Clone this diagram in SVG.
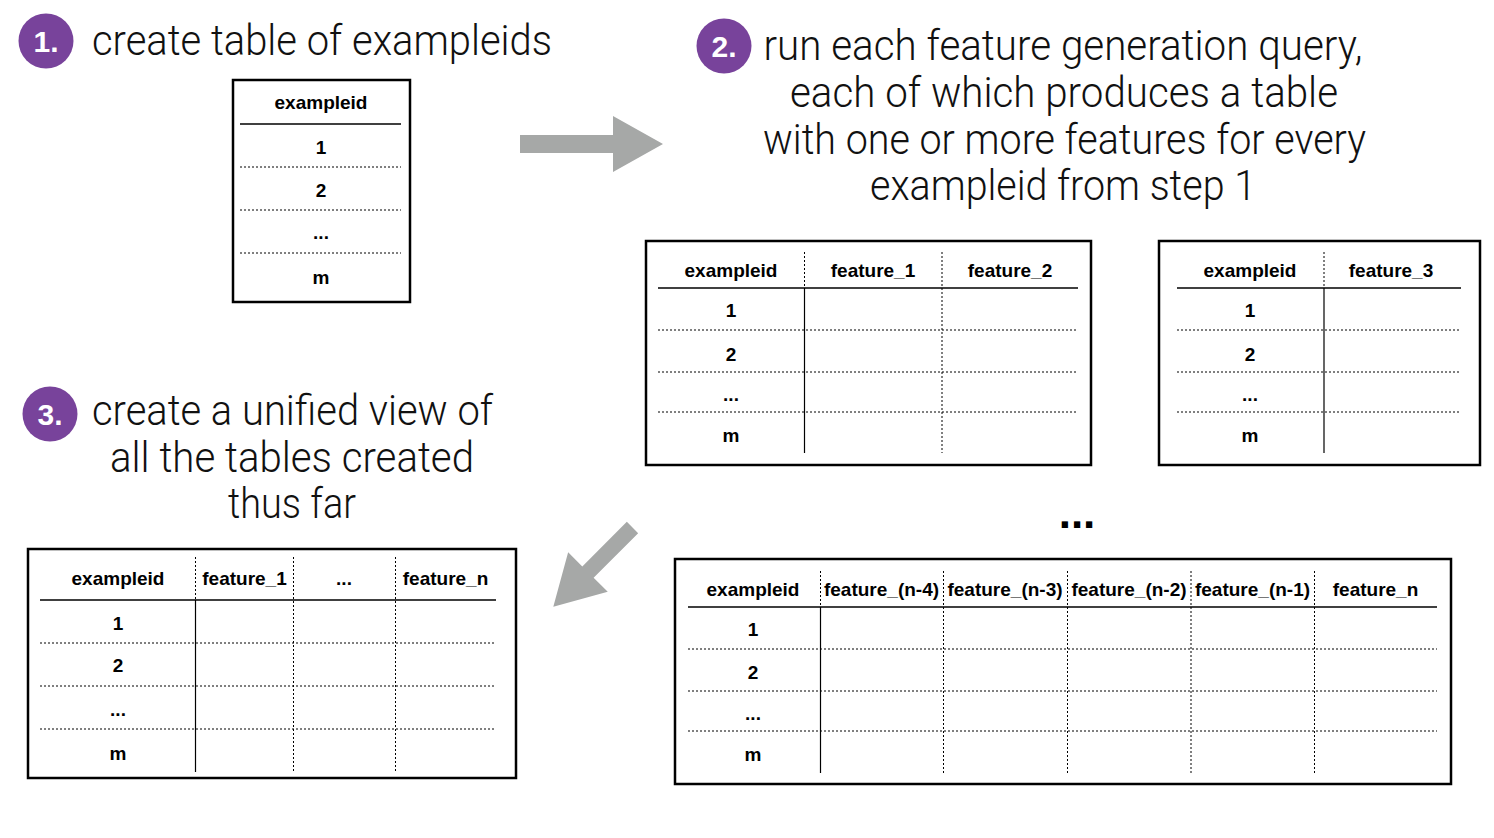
<svg xmlns="http://www.w3.org/2000/svg" width="1494" height="838" viewBox="0 0 1494 838">
<style>
.title{font-family:Roboto,"Liberation Sans",Arial,sans-serif;font-weight:300;font-size:42px;fill:#111;text-anchor:middle}
.tl{text-anchor:start}
.badge{fill:#78439b}
.btxt{font-family:"Liberation Sans",Arial,sans-serif;font-weight:bold;font-size:30px;fill:#fff;text-anchor:middle}
.frame{fill:#fff;stroke:#000;stroke-width:2.5}
.hl{stroke:#000;stroke-width:1.5}
.vs{stroke:#000;stroke-width:1.2}
.dt{stroke:#000;stroke-width:1;stroke-dasharray:2 2}
.cell{font-family:"Liberation Sans",Arial,sans-serif;font-weight:bold;font-size:19px;text-anchor:middle;fill:#000}
.arrow{fill:#a6a8a7}
</style>
<rect width="1494" height="838" fill="#fff"/>

<g id="step1">
<circle class="badge" cx="46" cy="41" r="27.5"/>
<text class="btxt" x="46" y="51.5">1.</text>
<text class="title tl" x="92" y="55" textLength="460" lengthAdjust="spacingAndGlyphs">create table of exampleids</text>
</g>

<g id="table1">
<rect class="frame" x="233" y="80" width="177" height="222"/>
<text class="cell" x="321" y="109">exampleid</text>
<line class="hl" x1="240" y1="124" x2="401" y2="124"/>
<line class="dt" x1="240" y1="167" x2="401" y2="167"/>
<line class="dt" x1="240" y1="210" x2="401" y2="210"/>
<line class="dt" x1="240" y1="253" x2="401" y2="253"/>
<text class="cell" x="321" y="154">1</text>
<text class="cell" x="321" y="197">2</text>
<text class="cell" x="321" y="239">...</text>
<text class="cell" x="321" y="284">m</text>
</g>

<g id="step2">
<circle class="badge" cx="724" cy="46" r="27.5"/>
<text class="btxt" x="724" y="56.5">2.</text>
<text class="title" x="1063" y="60" textLength="599" lengthAdjust="spacingAndGlyphs">run each feature generation query,</text>
<text class="title" x="1064" y="107" textLength="548" lengthAdjust="spacingAndGlyphs">each of which produces a table</text>
<text class="title" x="1064.5" y="154" textLength="603" lengthAdjust="spacingAndGlyphs">with one or more features for every</text>
<text class="title" x="1063" y="200" textLength="386" lengthAdjust="spacingAndGlyphs">exampleid from step 1</text>
</g>

<g id="table2">
<rect class="frame" x="646" y="241" width="445" height="224"/>
<text class="cell" x="731" y="277">exampleid</text>
<text class="cell" x="873" y="277">feature_1</text>
<text class="cell" x="1010" y="277">feature_2</text>
<line class="hl" x1="658" y1="288" x2="1078" y2="288"/>
<line class="dt" x1="804.5" y1="252" x2="804.5" y2="288"/>
<line class="vs" x1="804.5" y1="288" x2="804.5" y2="453"/>
<line class="dt" x1="942" y1="252" x2="942" y2="453"/>
<line class="dt" x1="658" y1="330" x2="1077" y2="330"/>
<line class="dt" x1="658" y1="372" x2="1077" y2="372"/>
<line class="dt" x1="658" y1="412" x2="1077" y2="412"/>
<text class="cell" x="731" y="317">1</text>
<text class="cell" x="731" y="361">2</text>
<text class="cell" x="731" y="401">...</text>
<text class="cell" x="731" y="442">m</text>
</g>

<g id="table3">
<rect class="frame" x="1159" y="241" width="321" height="224"/>
<text class="cell" x="1250" y="277">exampleid</text>
<text class="cell" x="1391" y="277">feature_3</text>
<line class="hl" x1="1177" y1="288" x2="1461" y2="288"/>
<line class="dt" x1="1324" y1="252" x2="1324" y2="288"/>
<line class="vs" x1="1324" y1="288" x2="1324" y2="453"/>
<line class="dt" x1="1177" y1="330" x2="1459" y2="330"/>
<line class="dt" x1="1177" y1="372" x2="1459" y2="372"/>
<line class="dt" x1="1177" y1="412" x2="1459" y2="412"/>
<text class="cell" x="1250" y="317">1</text>
<text class="cell" x="1250" y="361">2</text>
<text class="cell" x="1250" y="401">...</text>
<text class="cell" x="1250" y="442">m</text>
</g>

<g id="more">
<text class="cell" x="1077" y="528" style="font-size:44px">...</text>
</g>

<g id="step3">
<circle class="badge" cx="50" cy="414" r="27.5"/>
<text class="btxt" x="50" y="424.5">3.</text>
<text class="title" x="292.5" y="425" textLength="401" lengthAdjust="spacingAndGlyphs">create a unified view of</text>
<text class="title" x="292" y="472" textLength="364" lengthAdjust="spacingAndGlyphs">all the tables created</text>
<text class="title" x="292" y="518" textLength="128" lengthAdjust="spacingAndGlyphs">thus far</text>
</g>

<g id="table4">
<rect class="frame" x="28" y="549" width="488" height="229"/>
<text class="cell" x="118" y="585">exampleid</text>
<text class="cell" x="244.5" y="585">feature_1</text>
<text class="cell" x="344" y="585">...</text>
<text class="cell" x="445.5" y="585">feature_n</text>
<line class="hl" x1="40" y1="600" x2="496" y2="600"/>
<line class="dt" x1="195.5" y1="557" x2="195.5" y2="600"/>
<line class="vs" x1="195.5" y1="600" x2="195.5" y2="772"/>
<line class="dt" x1="293.5" y1="557" x2="293.5" y2="772"/>
<line class="dt" x1="395.5" y1="557" x2="395.5" y2="772"/>
<line class="dt" x1="40" y1="643" x2="494" y2="643"/>
<line class="dt" x1="40" y1="686" x2="494" y2="686"/>
<line class="dt" x1="40" y1="729" x2="494" y2="729"/>
<text class="cell" x="118" y="630">1</text>
<text class="cell" x="118" y="672">2</text>
<text class="cell" x="118" y="716">...</text>
<text class="cell" x="118" y="760">m</text>
</g>

<g id="table5">
<rect class="frame" x="675" y="559" width="776" height="225"/>
<text class="cell" x="753" y="596">exampleid</text>
<text class="cell" x="881.5" y="596">feature_(n-4)</text>
<text class="cell" x="1005" y="596">feature_(n-3)</text>
<text class="cell" x="1129" y="596">feature_(n-2)</text>
<text class="cell" x="1252.5" y="596">feature_(n-1)</text>
<text class="cell" x="1375.5" y="596">feature_n</text>
<line class="hl" x1="688" y1="607" x2="1437" y2="607"/>
<line class="dt" x1="820.5" y1="571" x2="820.5" y2="607"/>
<line class="vs" x1="820.5" y1="607" x2="820.5" y2="773"/>
<line class="dt" x1="943.5" y1="571" x2="943.5" y2="773"/>
<line class="dt" x1="1067.5" y1="571" x2="1067.5" y2="773"/>
<line class="dt" x1="1191" y1="571" x2="1191" y2="773"/>
<line class="dt" x1="1314.5" y1="571" x2="1314.5" y2="773"/>
<line class="dt" x1="688" y1="649" x2="1437" y2="649"/>
<line class="dt" x1="688" y1="691" x2="1437" y2="691"/>
<line class="dt" x1="688" y1="731" x2="1437" y2="731"/>
<text class="cell" x="753" y="636">1</text>
<text class="cell" x="753" y="679">2</text>
<text class="cell" x="753" y="720">...</text>
<text class="cell" x="753" y="761">m</text>
</g>

<g id="connectors">
<polygon class="arrow" points="520,135 613,135 613,116 663,144 613,172 613,153 520,153"/>
<polygon class="arrow" transform="translate(632.5,527.5) rotate(135)" points="0,-8 63,-8 63,-28 112,0 63,28 63,8 0,8"/>
</g>
</svg>
